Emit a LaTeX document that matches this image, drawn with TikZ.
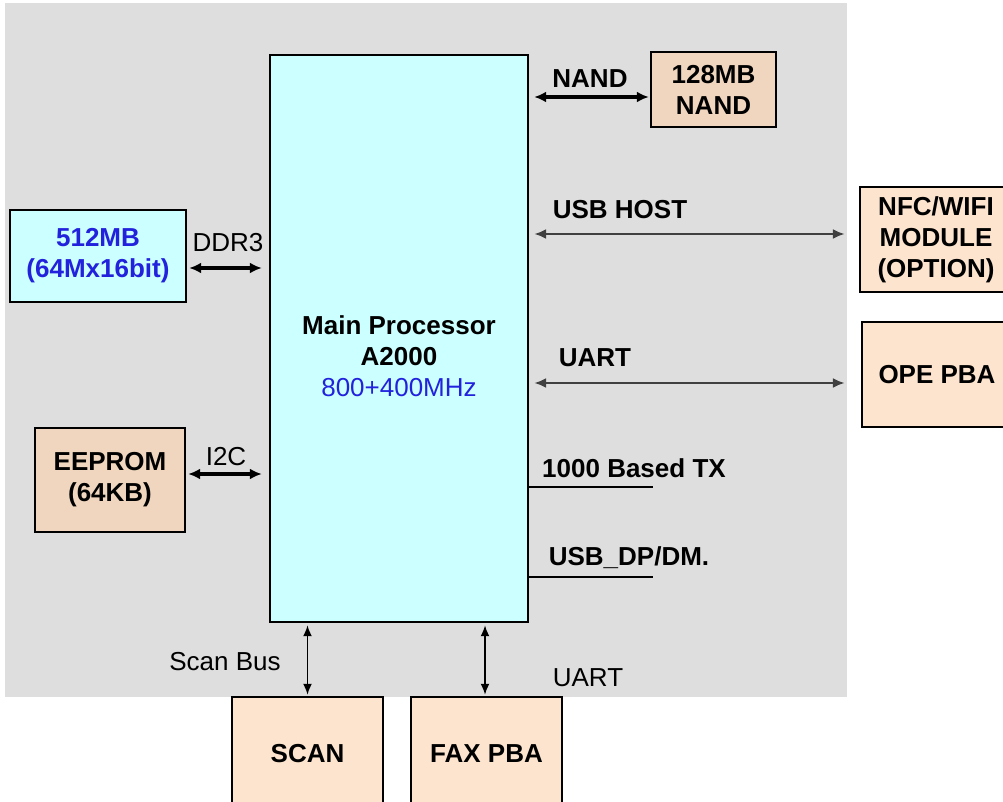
\documentclass[tikz,border=0pt]{standalone}
\usepackage{fontspec}
\setmainfont{Liberation Sans}
\usetikzlibrary{arrows.meta,positioning}
\definecolor{bggray}{HTML}{DEDEDE}
\definecolor{chipcyan}{HTML}{CCFFFF}
\definecolor{memtan}{HTML}{F0D6BE}
\definecolor{pbapeach}{HTML}{FCE4CE}
\definecolor{txtblue}{HTML}{2222DD}

\begin{document}
\begin{tikzpicture}[
  x=1pt, y=-1pt,
  every node/.style={font=\fontsize{26}{31}\selectfont, inner sep=0pt, align=center},
  blk/.style={draw, line width=2.4pt},
  lbl/.style={font=\fontsize{26}{31}\selectfont\bfseries},
  bus/.style={{Latex[length=12pt,width=11pt]}-{Latex[length=12pt,width=11pt]}, line width=3.6pt},
  link/.style={{Latex[length=12pt,width=10pt]}-{Latex[length=12pt,width=10pt]}, line width=2.2pt, black!75},
  vlink/.style={{Latex[length=11pt,width=9pt]}-{Latex[length=11pt,width=9pt]}, line width=1.8pt}
]
\clip (0,0) rectangle (1003,802);
\fill[bggray] (5,3) rectangle (847,697);

\node[blk, fill=chipcyan, minimum width=258pt, minimum height=567pt] (main) at (399,338.5) {};
\node[lbl] (cpu) at (399,356) {Main Processor\\A2000\\\mdseries\color{txtblue}800+400MHz};

\node[blk, fill=chipcyan, minimum width=176pt, minimum height=92pt, lbl, text=txtblue] (ddr) at (98,256) {512MB\\(64Mx16bit)};
\node[blk, fill=memtan, minimum width=150pt, minimum height=104pt, lbl] (eeprom) at (110,480) {EEPROM\\(64KB)};
\node[blk, fill=memtan, minimum width=125pt, minimum height=75pt, lbl] (nand) at (713.5,89.5) {128MB\\NAND};
\node[blk, fill=pbapeach, minimum width=152pt, minimum height=105pt, lbl] (nfc) at (936,239.5) {NFC/WIFI\\MODULE\\(OPTION)};
\node[blk, fill=pbapeach, minimum width=150pt, minimum height=105pt, lbl] (ope) at (937,374.5) {OPE PBA};
\node[blk, fill=pbapeach, minimum width=151pt, minimum height=113pt, lbl] (scan) at (307.5,753.5) {SCAN};
\node[blk, fill=pbapeach, minimum width=151pt, minimum height=113pt, lbl] (fax) at (486.5,753.5) {FAX PBA};

\draw[bus, shorten <=2pt, shorten >=7pt] (ddr.east |- 0,268) -- (main.west |- 0,268);
\node (ddrlbl) at (228,243) {DDR3};
\draw[bus, shorten <=2pt, shorten >=7pt] (eeprom.east |- 0,474) -- (main.west |- 0,474);
\node (i2clbl) at (226,457) {I2C};
\draw[bus, shorten <=5pt, shorten >=1pt] (main.east |- 0,97) -- (nand.west |- 0,97);
\node[lbl] (nandlbl) at (590,79) {NAND};

\draw[link, shorten <=5pt, shorten >=14pt] (main.east |- 0,234) -- (nfc.west |- 0,234);
\node[lbl] (usblbl) at (620,210) {USB HOST};
\draw[link, shorten <=5pt, shorten >=16pt] (main.east |- 0,383) -- (ope.west |- 0,383);
\node[lbl] (uartlbl) at (595,358) {UART};

\coordinate (txend) at (653,487);
\draw[line width=2.4pt] (main.east |- txend) -- (txend);
\node[lbl] (txlbl) at (634,468) {1000 Based TX};
\coordinate (dpend) at (653,577);
\draw[line width=2.4pt] (main.east |- dpend) -- (dpend);
\node[lbl] (dplbl) at (629,558) {USB\_DP/DM.};

\draw[vlink, shorten <=2pt, shorten >=1pt] (main.south -| scan) -- (scan.north);
\node (scanlbl) at (225,662) {Scan Bus};
\draw[vlink, shorten <=2pt, shorten >=1pt] (main.south -| 485,0) -- (fax.north -| 485,0);
\node (uartlbl2) at (588,678) {UART};
\end{tikzpicture}
\end{document}
